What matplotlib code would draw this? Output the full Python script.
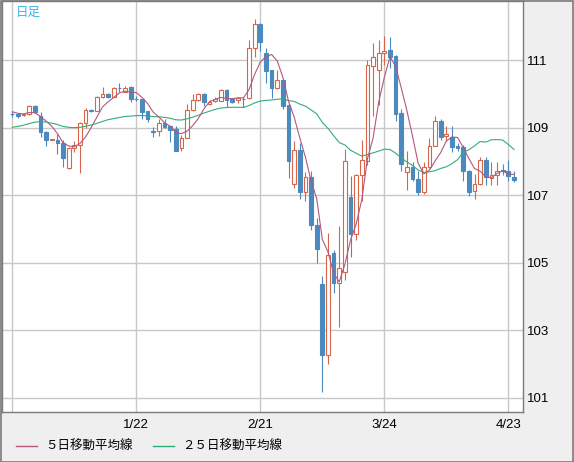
import numpy as np
import pandas as pd
import matplotlib
matplotlib.use('Agg')
import matplotlib.pyplot as plt
from matplotlib.lines import Line2D
from matplotlib.patches import Rectangle

# daily candles, 12/23 .. 4/24 (index 0 .. 89)
opens = [109.41, 109.40, 109.36, 109.40, 109.65, 109.35, 108.88, 108.63, 108.64, 108.54,
         107.80, 108.39, 108.50, 109.13, 109.53, 109.50, 109.92, 110.01, 109.92, 110.17,
         110.07, 110.19, 109.86, 109.85, 109.48, 108.89, 108.89, 109.14, 109.04, 108.96,
         108.40, 108.70, 109.52, 109.82, 110.00, 109.70, 109.78, 109.80, 110.11, 109.85,
         109.82, 109.86, 109.88, 111.35, 112.08, 111.22, 110.70, 110.17, 110.41, 109.68,
         107.34, 108.34, 107.09, 107.55, 106.13, 104.38, 102.28, 105.30, 104.41, 104.73,
         106.96, 105.86, 107.61, 108.00, 110.83, 110.70, 111.20, 111.30, 111.13, 109.42,
         107.68, 107.83, 107.48, 107.09, 107.83, 108.47, 109.19, 108.74, 108.73, 108.45,
         108.42, 107.73, 107.12, 107.34, 108.03, 107.51, 107.61, 107.76, 107.73, 107.55]
closes = [109.40, 109.33, 109.39, 109.63, 109.45, 108.86, 108.62, 108.65, 108.54, 108.09,
          108.39, 108.50, 109.13, 109.52, 109.49, 109.92, 110.00, 109.90, 110.17, 110.16,
          110.17, 109.85, 109.85, 109.45, 109.26, 108.88, 109.14, 109.01, 108.93, 108.32,
          108.70, 109.52, 109.82, 110.00, 109.75, 109.77, 109.85, 110.11, 109.82, 109.75,
          109.88, 109.85, 111.35, 112.08, 111.55, 110.68, 110.17, 110.41, 109.65, 108.00,
          108.34, 107.09, 107.55, 106.13, 105.40, 102.28, 105.24, 104.41, 104.83, 108.00,
          105.86, 107.61, 108.03, 110.86, 111.08, 111.20, 111.27, 111.10, 109.40, 107.93,
          107.83, 107.48, 107.09, 107.83, 108.47, 109.19, 108.73, 108.81, 108.42, 108.39,
          107.71, 107.09, 107.34, 108.03, 107.53, 107.61, 107.71, 107.71, 107.58, 107.45]
highs = [109.50, 109.42, 109.41, 109.67, 109.66, 109.47, 108.90, 108.66, 108.81, 108.62,
         108.42, 108.59, 109.16, 109.57, 109.56, 109.95, 110.21, 110.03, 110.21, 110.31,
         110.24, 110.24, 109.95, 109.85, 109.50, 109.01, 109.26, 109.26, 109.05, 109.04,
         108.78, 109.70, 110.00, 110.02, 110.02, 109.82, 109.90, 110.14, 110.13, 109.87,
         109.91, 109.91, 111.59, 112.21, 112.10, 111.37, 110.70, 110.70, 110.45, 109.70,
         108.60, 108.54, 107.68, 107.73, 106.33, 104.60, 105.89, 105.37, 106.08, 108.37,
         107.58, 107.62, 108.62, 111.00, 111.52, 111.60, 111.72, 111.69, 111.15, 109.55,
         108.30, 107.97, 107.73, 107.97, 108.69, 109.35, 109.26, 109.06, 109.06, 108.55,
         108.50, 107.75, 107.63, 108.12, 108.12, 107.97, 107.97, 107.93, 108.03, 107.73]
lows = [109.32, 109.30, 109.34, 109.38, 109.43, 108.73, 108.45, 108.62, 108.22, 107.83,
        107.77, 108.29, 107.66, 109.00, 109.45, 109.48, 109.88, 109.87, 109.90, 110.07,
        110.05, 109.75, 109.78, 109.26, 109.16, 108.71, 108.76, 108.98, 108.57, 108.30,
        108.30, 108.68, 109.50, 109.80, 109.65, 109.66, 109.75, 109.78, 109.60, 109.72,
        109.72, 109.60, 109.85, 111.10, 111.27, 110.31, 109.88, 110.15, 109.55, 107.51,
        107.20, 106.90, 106.84, 105.98, 104.99, 101.18, 101.99, 104.09, 103.10, 104.48,
        105.17, 105.66, 106.84, 107.90, 109.35, 109.68, 110.86, 110.76, 109.19, 107.73,
        107.14, 107.43, 107.00, 107.04, 107.80, 108.45, 108.64, 108.60, 108.27, 108.32,
        107.43, 106.99, 106.89, 107.30, 107.29, 107.29, 107.29, 107.60, 107.43, 107.38]
# closes before the first visible day (needed for the moving averages)
prev_close = [108.62, 108.55, 108.40, 108.44, 108.40, 108.98, 109.50, 109.48, 109.55, 109.02,
              108.76, 108.88, 108.70, 108.58, 108.72, 108.60, 108.58, 109.35, 109.35, 109.45,
              109.55, 109.48, 109.42, 109.49]

tick_idx = [0, 22, 44, 66, 88]
tick_labels = ['', '1/22', '2/21', '3/24', '4/23']
y_ticks = [101, 103, 105, 107, 109, 111]

UP = '#d6654a'
DOWN = '#4a8abf'
MA5_C = '#b5577f'
MA25_C = '#2fae78'
GRID = '#c8c8c8'
BORDER = '#7a7a7a'
PANEL = '#efefef'

o = np.array(opens)
c = np.array(closes)
h = np.array(highs)
l = np.array(lows)
x = np.arange(len(c))

allc = pd.Series(prev_close + closes)
ma5 = allc.rolling(5).mean().values[len(prev_close):]
ma25 = allc.rolling(25).mean().values[len(prev_close):]

W, H = 574, 462
fig = plt.figure(figsize=(W / 100, H / 100), dpi=100, facecolor=PANEL)
ax = fig.add_axes([1.5 / W, 50 / H, 521.5 / W, 411 / H])
ax.set_facecolor('white')

ax.set_xlim(-1.92, 90.6)
ax.set_ylim(100.58, 112.75)

for v in y_ticks:
    ax.axhline(v, color=GRID, lw=1, zorder=0)
for i in tick_idx:
    ax.axvline(i, color=GRID, lw=1, zorder=0)

# candles: hollow red when up, filled blue when down
bw = 0.66
up = c >= o
top = np.maximum(o, c)
bot = np.minimum(o, c)
hgt = np.maximum(top - bot, 0.012)
ax.vlines(x[up], l[up], bot[up], color=UP, lw=0.8, zorder=2)
ax.vlines(x[up], top[up], h[up], color=UP, lw=0.8, zorder=2)
ax.bar(x[up], hgt[up], bottom=bot[up], width=bw, facecolor='white',
       edgecolor=UP, linewidth=0.8, zorder=2)
ax.vlines(x[~up], l[~up], h[~up], color=DOWN, lw=0.8, zorder=2)
ax.bar(x[~up], hgt[~up], bottom=bot[~up], width=bw, facecolor=DOWN,
       edgecolor=DOWN, linewidth=0.8, zorder=2)

ax.plot(x, ma25, color=MA25_C, lw=0.8, zorder=3)
ax.plot(x, ma5, color=MA5_C, lw=0.8, zorder=3)

ax.set_xticks(tick_idx)
ax.set_xticklabels(tick_labels)
ax.set_yticks(y_ticks)
ax.yaxis.tick_right()
ax.tick_params(axis='both', length=0, labelsize=9.5, colors='black')
ax.tick_params(axis='y', pad=3)
ax.tick_params(axis='x', pad=5)
for lab in ax.get_xticklabels() + ax.get_yticklabels():
    lab.set_family('Liberation Sans')
for sp in ax.spines.values():
    sp.set_color(BORDER)
    sp.set_linewidth(1)

fig.text(16 / W, 1 - 12 / H, '日足', color='#3db3ea', fontsize=9,
         family=['Noto Sans CJK JP', 'DejaVu Sans'], va='center', ha='left')

# legend row
ly = 1 - 446 / H
fig.add_artist(Line2D([16 / W, 37 / W], [ly, ly], color=MA5_C, lw=1))
fig.text(45 / W, ly, '５日移動平均線', fontsize=9, va='center', ha='left',
         family=['Noto Sans CJK JP', 'DejaVu Sans'])
fig.add_artist(Line2D([153 / W, 174 / W], [ly, ly], color=MA25_C, lw=1))
fig.text(182 / W, ly, '２５日移動平均線', fontsize=9, va='center', ha='left',
         family=['Noto Sans CJK JP', 'DejaVu Sans'])

fig.add_artist(Rectangle((0.5 / W, 0.5 / H), 1 - 1.5 / W, 1 - 1.5 / H,
                         transform=fig.transFigure, fill=False,
                         edgecolor=BORDER, lw=1.2))

fig.savefig('out.png', dpi=100, facecolor=PANEL)
